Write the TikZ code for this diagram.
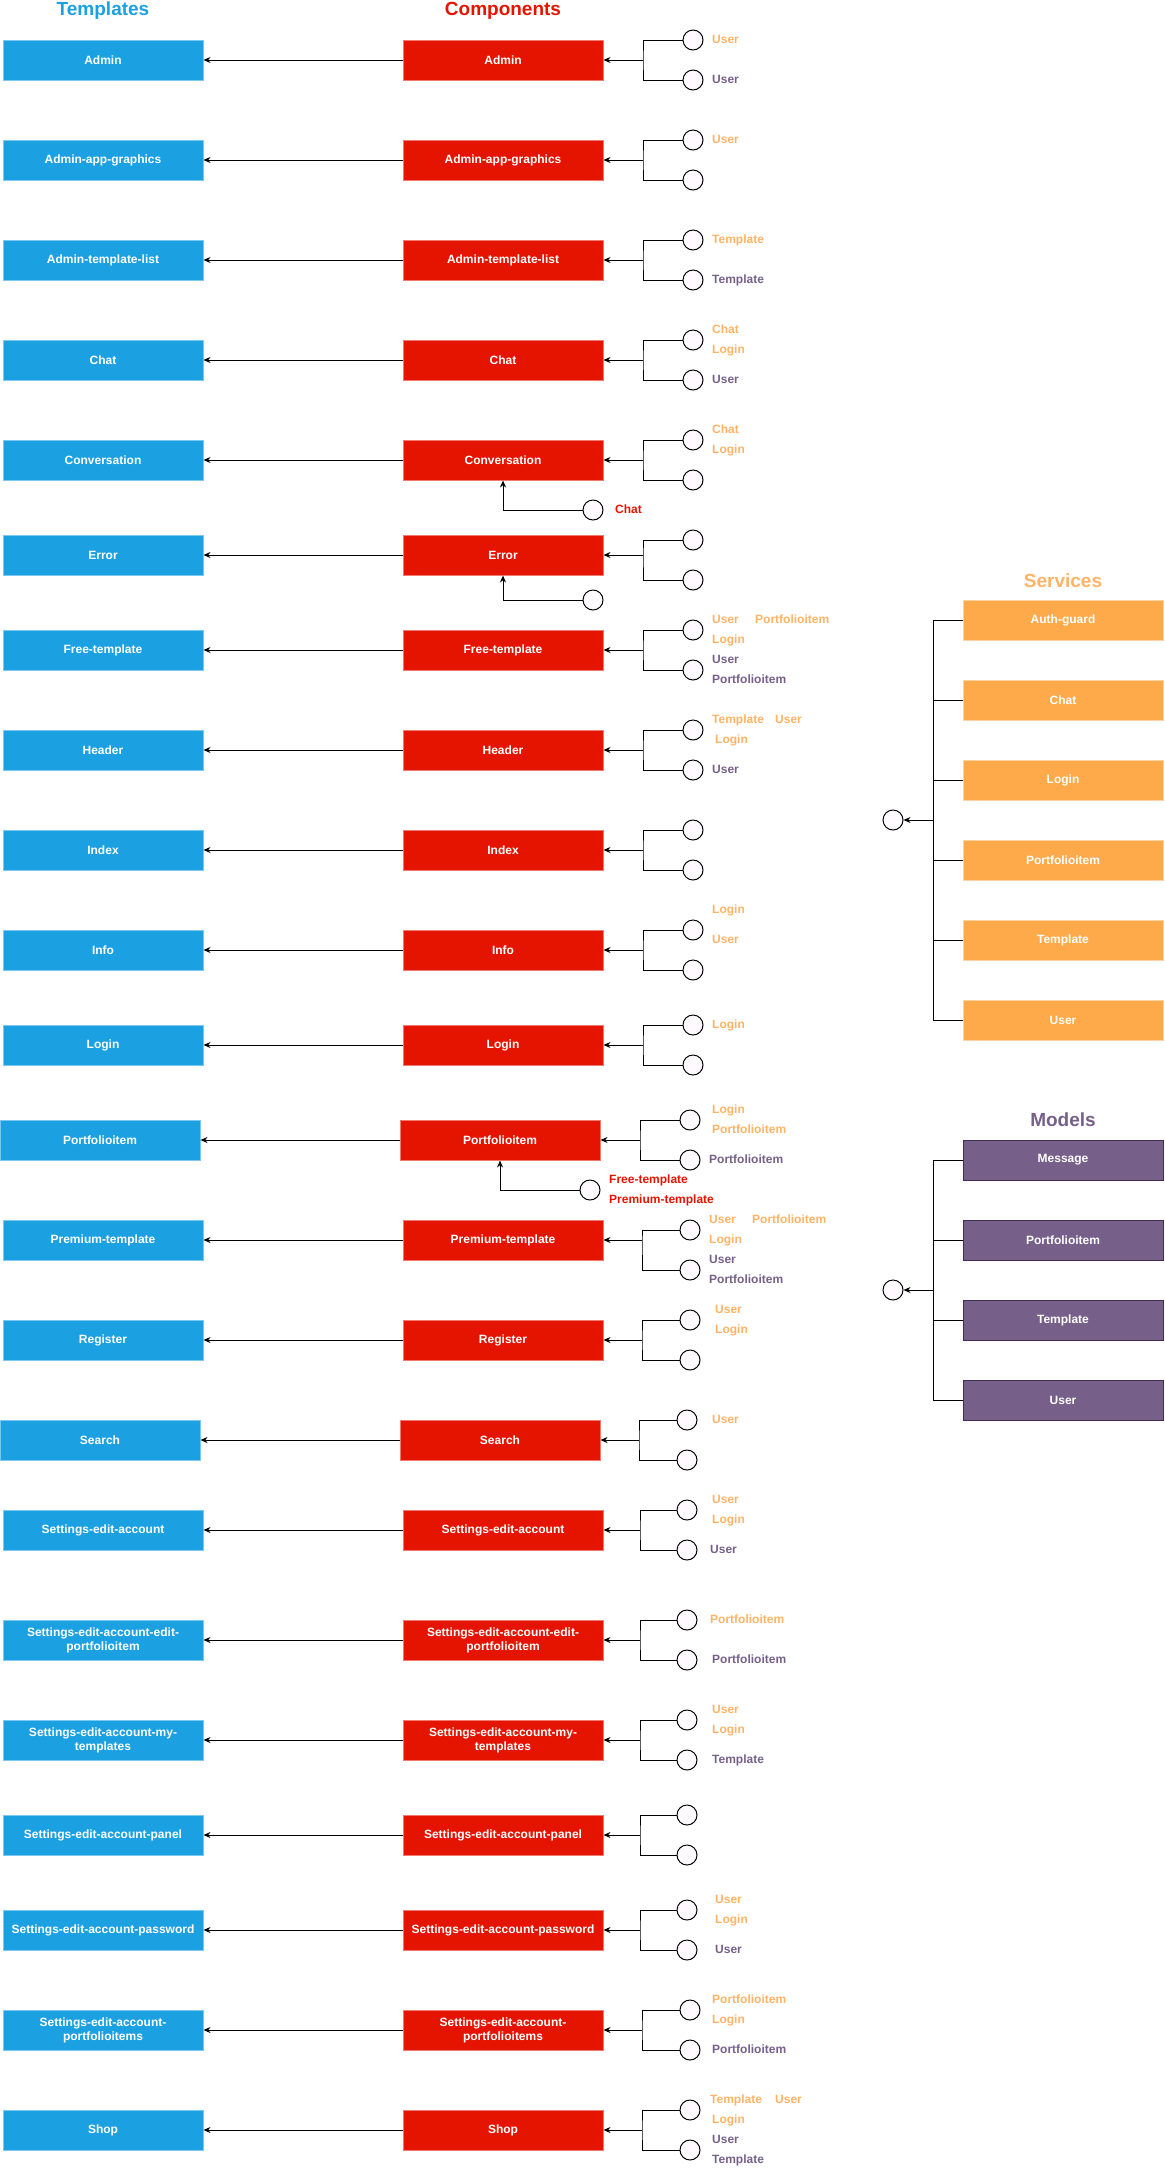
\documentclass[tikz,border=0pt]{standalone}
\usepackage{fontspec}
\setmainfont{Liberation Sans}
\usetikzlibrary{arrows.meta}
\definecolor{tplblue}{HTML}{1BA1E2}
\definecolor{tplline}{HTML}{7CC7F0}
\definecolor{cmpred}{HTML}{E51400}
\definecolor{cmpline}{HTML}{F07A70}
\definecolor{svcorange}{HTML}{FFAA4A}
\definecolor{svcline}{HTML}{FFD3A0}
\definecolor{lblorange}{HTML}{FFB366}
\definecolor{mdlpurple}{HTML}{76608A}
\definecolor{mdlline}{HTML}{432D57}
\definecolor{circfill}{HTML}{FFFAFF}

\begin{document}
\begin{tikzpicture}[x=1pt, y=-1pt,
  box/.style={minimum width=200pt, minimum height=40pt, inner sep=2pt, align=center,
              text=white, font=\fontsize{12}{14}\selectfont\bfseries, line width=1pt},
  tpl/.style={box, fill=tplblue, draw=tplline},
  cmp/.style={box, fill=cmpred, draw=cmpline},
  svc/.style={box, fill=svcorange, draw=svcline},
  mdl/.style={box, fill=mdlpurple, draw=mdlline},
  dep/.style={circle, draw, line width=1pt, fill=circfill, minimum size=20pt, inner sep=0pt},
  title/.style={font=\fontsize{19}{22}\selectfont\bfseries},
  lbl/.style={anchor=west, inner sep=0pt, text height=8.6pt, text depth=2pt,
              font=\fontsize{12}{14}\selectfont\bfseries},
  lo/.style={lbl, text=lblorange},
  lp/.style={lbl, text=mdlpurple},
  lr/.style={lbl, text=cmpred},
  arrow/.style={-{Stealth[length=7pt, width=6pt]}, line width=1pt},
  wire/.style={line width=1pt}
]
\useasboundingbox (0,0) rectangle (1165,2172);

% column titles
\node[title, text=tplblue]    (ttpl) at (103,11)    {Templates};
\node[title, text=cmpred]     (tcmp) at (503,11)    {Components};
\node[title, text=lblorange]  (tsvc) at (1063,581)  {Services};
\node[title, text=mdlpurple]  (tmdl) at (1063,1120) {Models};

% rows: name / y / shift / circle x / branch x / top dy / bottom dy / text
\foreach \n/\y/\sh/\cx/\bx/\ta/\tb/\txt in {
  1/60/0/693/643/-20/20/{Admin},
  2/160/0/693/643/-20/20/{Admin-app-graphics},
  3/260/0/693/643/-20/20/{Admin-template-list},
  4/360/0/693/643/-20/20/{Chat},
  5/460/0/693/643/-20/20/{Conversation},
  6/555/0/693/643/-15/25/{Error},
  7/650/0/693/643/-20/20/{Free-template},
  8/750/0/693/643/-20/20/{Header},
  9/850/0/693/643/-20/20/{Index},
  10/950/0/693/643/-20/20/{Info},
  11/1045/0/693/643/-20/20/{Login},
  12/1140/-3/690/640/-20/20/{Portfolioitem},
  13/1240/0/690/642/-10/30/{Premium-template},
  14/1340/0/690/642/-20/20/{Register},
  15/1440/-3/687/639/-20/20/{Search},
  16/1530/0/687/640/-20/20/{Settings-edit-account},
  17/1640/0/687/640/-20/20/{Settings-edit-account-edit-\\portfolioitem},
  18/1740/0/687/640/-20/20/{Settings-edit-account-my-\\templates},
  19/1835/0/687/640/-20/20/{Settings-edit-account-panel},
  20/1930/0/687/640/-20/20/{Settings-edit-account-password},
  21/2030/0/690/642/-20/20/{Settings-edit-account-\\portfolioitems},
  22/2130/0/690/642/-20/20/{Shop}} {
  \node[tpl] (tpl\n) at (103+\sh,\y) {\txt};
  \node[cmp] (cmp\n) at (503+\sh,\y) {\txt};
  \node[dep] (top\n) at (\cx,\y+\ta) {};
  \node[dep] (bot\n) at (\cx,\y+\tb) {};
  \coordinate (br\n) at (\bx,\y);
  \draw[arrow] (cmp\n) -- (tpl\n);
  \draw[wire] (top\n) -| (br\n) |- (bot\n);
  \draw[arrow] (br\n) -- (cmp\n);
}

% extra inputs below some components
\node[dep] (xc5)  at (593,510)  {};
\node[dep] (xc6)  at (593,600)  {};
\node[dep] (xc12) at (590,1190) {};
\draw[arrow] (xc5) -| (cmp5);
\draw[arrow] (xc6) -| (cmp6);
\draw[arrow] (xc12) -| (cmp12);

% labels next to the circles
\foreach \x/\y/\s/\t [count=\k] in {
  712/40/lo/User, 712/80/lp/User,
  712/140/lo/User,
  712/240/lo/Template, 712/280/lp/Template,
  712/330/lo/Chat, 712/350/lo/Login, 712/380/lp/User,
  712/430/lo/Chat, 712/450/lo/Login, 615/510/lr/Chat,
  712/620/lo/User, 755/620/lo/Portfolioitem, 712/640/lo/Login,
  712/660/lp/User, 712/680/lp/Portfolioitem,
  712/720/lo/Template, 775/720/lo/User, 715/740/lo/Login, 712/770/lp/User,
  712/910/lo/Login, 712/940/lo/User,
  712/1025/lo/Login,
  712/1110/lo/Login, 712/1130/lo/Portfolioitem, 709/1160/lp/Portfolioitem,
  609/1180/lr/Free-template, 609/1200/lr/Premium-template,
  709/1220/lo/User, 752/1220/lo/Portfolioitem, 709/1240/lo/Login,
  709/1260/lp/User, 709/1280/lp/Portfolioitem,
  715/1310/lo/User, 715/1330/lo/Login,
  712/1420/lo/User,
  712/1500/lo/User, 712/1520/lo/Login, 710/1550/lp/User,
  710/1620/lo/Portfolioitem, 712/1660/lp/Portfolioitem,
  712/1710/lo/User, 712/1730/lo/Login, 712/1760/lp/Template,
  715/1900/lo/User, 715/1920/lo/Login, 715/1950/lp/User,
  712/2000/lo/Portfolioitem, 712/2020/lo/Login, 712/2050/lp/Portfolioitem,
  710/2100/lo/Template, 775/2100/lo/User, 712/2120/lo/Login,
  712/2140/lp/User, 712/2160/lp/Template} {
  \node[\s] (lbl\k) at (\x,\y) {\t};
}

% services
\foreach \t [count=\k] in {Auth-guard, Chat, Login, Portfolioitem, Template, User} {
  \node[svc] (svc\k) at (1063,540+80*\k) {\t};
}
\node[dep] (svcdot) at (893,820) {};
\coordinate (svcbr) at (933,820);
\foreach \k in {1,...,6} \draw[wire] (svc\k) -| (svcbr);
\draw[arrow] (svcbr) -- (svcdot);

% models
\foreach \t [count=\k] in {Message, Portfolioitem, Template, User} {
  \node[mdl] (mdl\k) at (1063,1080+80*\k) {\t};
}
\node[dep] (mdldot) at (893,1290) {};
\coordinate (mdlbr) at (933,1290);
\foreach \k in {1,...,4} \draw[wire] (mdl\k) -| (mdlbr);
\draw[arrow] (mdlbr) -- (mdldot);
\end{tikzpicture}
\end{document}
